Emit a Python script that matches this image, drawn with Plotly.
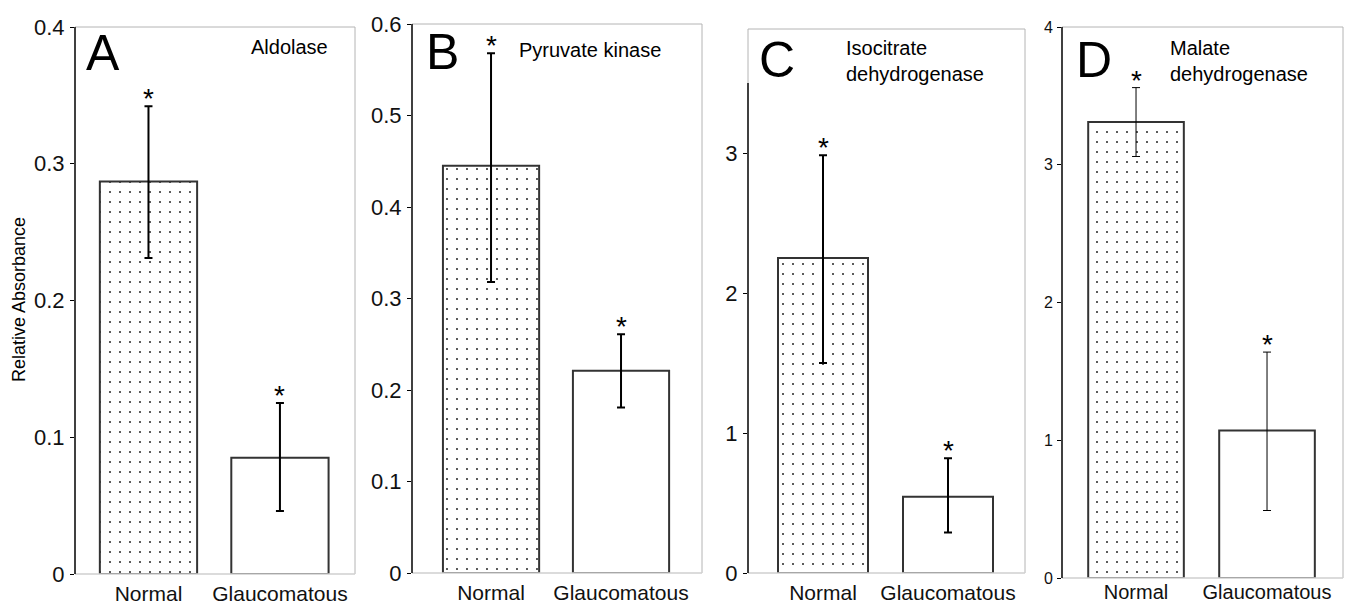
import plotly.graph_objects as go

W, H = 1349, 607

categories = ["Normal", "Glaucomatous"]

# Panel A - Aldolase
a_vals = [0.287, 0.085]
a_upper = [0.342, 0.125]
a_lower = [0.231, 0.046]
# Panel B - Pyruvate kinase
b_vals = [0.445, 0.221]
b_upper = [0.568, 0.261]
b_lower = [0.318, 0.181]
# Panel C - Isocitrate dehydrogenase
c_vals = [2.25, 0.545]
c_upper = [2.985, 0.82]
c_lower = [1.50, 0.29]
# Panel D - Malate dehydrogenase
d_vals = [3.31, 1.07]
d_upper = [3.56, 1.64]
d_lower = [3.06, 0.49]

a_ticks = [0, 0.1, 0.2, 0.3, 0.4]
a_ticklabels = ["0", "0.1", "0.2", "0.3", "0.4"]
b_ticks = [0, 0.1, 0.2, 0.3, 0.4, 0.5, 0.6]
b_ticklabels = ["0", "0.1", "0.2", "0.3", "0.4", "0.5", "0.6"]
c_ticks = [0, 1, 2, 3]
c_ticklabels = ["0", "1", "2", "3"]
d_ticks = [0, 1, 2, 3, 4]
d_ticklabels = ["0", "1", "2", "3", "4"]

letters = ["A", "B", "C", "D"]
titles = ["Aldolase", "Pyruvate kinase", "Isocitrate<br>dehydrogenase", "Malate<br>dehydrogenase"]
y_title = "Relative Absorbance"

FONT = "Liberation Sans, Arial, sans-serif"


def fx(p):
    return p / W


def fy(p):
    return 1 - p / H


panels = [
    dict(vals=a_vals, up=a_upper, lo=a_lower, box=(75, 355, 27, 574), yr=[0, 0.4], xr=[-0.559, 1.571],
         tv=a_ticks, tt=a_ticklabels, tfs=22, bw=0.74, ew=2, linetop=0.4, xfs=21, xso=5),
    dict(vals=b_vals, up=b_upper, lo=b_lower, box=(412, 702, 24, 573), yr=[0, 0.6], xr=[-0.608, 1.623],
         tv=b_ticks, tt=b_ticklabels, tfs=22, bw=0.74, ew=2, linetop=0.6, xfs=21, xso=5),
    dict(vals=c_vals, up=c_upper, lo=c_lower, box=(748, 1025, 29, 573), yr=[0, 3.886], xr=[-0.6, 1.616],
         tv=c_ticks, tt=c_ticklabels, tfs=22, bw=0.72, ew=2, linetop=3.5, xfs=21, xso=5),
    dict(vals=d_vals, up=d_upper, lo=d_lower, box=(1062, 1343, 27, 578), yr=[0, 4.0], xr=[-0.565, 1.58],
         tv=d_ticks, tt=d_ticklabels, tfs=16, bw=0.73, ew=1, linetop=4.0, xfs=20, xso=0),
]

fig = go.Figure()
shapes = []
annotations = []

for i, p in enumerate(panels):
    n = "" if i == 0 else str(i + 1)
    xa, ya = "x" + n, "y" + n
    l, r, t, b = p["box"]
    vals = p["vals"]
    plus = [u - v for u, v in zip(p["up"], vals)]
    minus = [v - lo for v, lo in zip(vals, p["lo"])]
    fig.add_trace(go.Bar(
        x=[categories[0]], y=[vals[0]], xaxis=xa, yaxis=ya, width=p["bw"],
        marker=dict(color="white", line=dict(color="#333333", width=2),
                    pattern=dict(shape=".", size=10, solidity=0.03, fgcolor="#222222",
                                 bgcolor="white", fillmode="replace")),
        error_y=dict(type="data", symmetric=False, array=[plus[0]], arrayminus=[minus[0]],
                     color="black", thickness=p["ew"], width=4),
        showlegend=False, hoverinfo="skip"))
    fig.add_trace(go.Bar(
        x=[categories[1]], y=[vals[1]], xaxis=xa, yaxis=ya, width=p["bw"],
        marker=dict(color="white", line=dict(color="#333333", width=2)),
        error_y=dict(type="data", symmetric=False, array=[plus[1]], arrayminus=[minus[1]],
                     color="black", thickness=p["ew"], width=4),
        showlegend=False, hoverinfo="skip"))

    fig.update_layout(**{
        ("xaxis" + n): dict(domain=[fx(l), fx(r)], anchor=ya, type="category",
                            categoryorder="array", categoryarray=categories,
                            range=p["xr"], showline=False, ticks="", showgrid=False,
                            zeroline=False, tickfont=dict(size=p["xfs"], color="#111", family=FONT),
                            ticklabelstandoff=p["xso"], fixedrange=True, automargin=False),
        ("yaxis" + n): dict(domain=[fy(b), fy(t)], anchor=xa, range=p["yr"], showline=False,
                            ticks="outside", ticklen=4, tickwidth=1, tickcolor="black",
                            tickvals=p["tv"], ticktext=p["tt"], showgrid=False, zeroline=False,
                            tickfont=dict(size=p["tfs"], color="#111", family=FONT),
                            ticklabelstandoff=1, fixedrange=True, automargin=False),
    })

    gray = "#b4b4b4"
    shapes.append(dict(type="line", xref=xa + " domain", yref=ya + " domain",
                       x0=0, x1=1, y0=1, y1=1, line=dict(color=gray, width=1)))
    shapes.append(dict(type="line", xref=xa + " domain", yref=ya + " domain",
                       x0=1, x1=1, y0=0, y1=1, line=dict(color=gray, width=1)))
    shapes.append(dict(type="line", xref=xa + " domain", yref=ya + " domain",
                       x0=0, x1=1, y0=0, y1=0, line=dict(color="#cfcfcf", width=1.5)))
    shapes.append(dict(type="line", xref=xa + " domain", yref=ya,
                       x0=0, x1=0, y0=p["linetop"], y1=p["yr"][1], line=dict(color=gray, width=1)))
    shapes.append(dict(type="line", xref=xa + " domain", yref=ya,
                       x0=0, x1=0, y0=0, y1=p["linetop"], line=dict(color="black", width=1.5)))

    for c, u in zip(categories, p["up"]):
        annotations.append(dict(x=c, y=u, xref=xa, yref=ya, text="*", showarrow=False,
                                yanchor="bottom", yshift=-10,
                                font=dict(size=28, color="black", family=FONT)))

letter_pos = [(84, 53), (424, 52), (757, 60), (1074, 60)]
title_pos = [(330, 47, "right"), (517, 50, "left"), (844, 61, "left"), (1168, 61, "left")]
for (lx, ly), L in zip(letter_pos, letters):
    annotations.append(dict(x=fx(lx), y=fy(ly), xref="paper", yref="paper", text=L,
                            showarrow=False, xanchor="left", yanchor="middle",
                            font=dict(size=50, color="black", family=FONT)))
for (tx, ty, al), T in zip(title_pos, titles):
    annotations.append(dict(x=fx(tx), y=fy(ty), xref="paper", yref="paper", text=T,
                            showarrow=False, xanchor=al, yanchor="middle", align="left",
                            font=dict(size=20, color="black", family=FONT)))

annotations.append(dict(x=fx(19), y=fy(300), xref="paper", yref="paper", text=y_title,
                        showarrow=False, textangle=-90, xanchor="center", yanchor="middle",
                        font=dict(size=18, color="black", family=FONT)))

fig.update_layout(width=W, height=H, margin=dict(l=0, r=0, t=0, b=0, pad=0),
                  paper_bgcolor="white", plot_bgcolor="white", barmode="overlay",
                  shapes=shapes, annotations=annotations, showlegend=False,
                  font=dict(family=FONT))

fig.write_html("out.html", config={"displayModeBar": False, "staticPlot": True},
               post_script="document.body.style.margin='0';document.body.style.overflow='hidden';")
